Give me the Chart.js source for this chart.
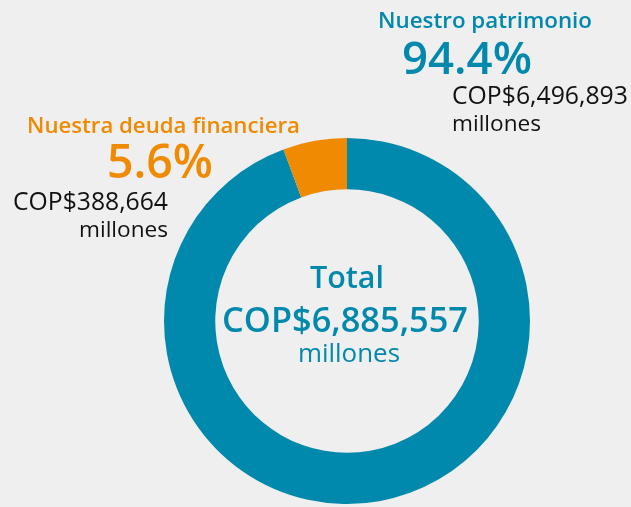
<!DOCTYPE html>
<html><head><meta charset="utf-8">
<script src="https://cdn.jsdelivr.net/npm/chart.js@4"></script>
<style>
html,body{margin:0;padding:0;background:#efefef;}
#wrap{position:relative;width:631px;height:507px;overflow:hidden;}
</style></head>
<body><div id="wrap"><canvas id="c" width="631" height="507"></canvas></div>
<script>
const categories = ["Nuestro patrimonio", "Nuestra deuda financiera"];
const values = [6496893, 388664];
const percentLabels = ["94.4%", "5.6%"];
const amountLabels = ["COP$6,496,893", "COP$388,664"];
const unitLabel = "millones";
const totalLabel = "Total";
const totalAmount = "COP$6,885,557";
const colors = ["#0088ad", "#f08a00"];

const FONT = "'Open Sans', 'Noto Sans', sans-serif";
function fitFont(ctx, text, weight, width, base) {
  ctx.font = weight + " " + base + "px " + FONT;
  const w = ctx.measureText(text).width;
  const size = base * width / w;
  ctx.font = weight + " " + size.toFixed(2) + "px " + FONT;
}
const textPlugin = {
  id: 'texts',
  afterDraw(chart) {
    const ctx = chart.ctx;
    ctx.save();
    ctx.textBaseline = 'alphabetic';
    const items = [
      // text, weight, color, align, x, baseline, width
      [categories[0], '600', colors[0], 'left', 378, 28, 214],
      [percentLabels[0], '600', colors[0], 'left', 402, 74, 130],
      [amountLabels[0], 'normal', '#111', 'left', 452, 104, 176],
      [unitLabel, 'normal', '#111', 'left', 452, 131, 89],
      [categories[1], '600', colors[1], 'left', 27, 133, 273],
      [percentLabels[1], '600', colors[1], 'left', 107, 178, 106],
      [amountLabels[1], 'normal', '#111', 'right', 168, 210, 155],
      [unitLabel, 'normal', '#111', 'right', 168, 237, 89],
      [totalLabel, '600', colors[0], 'center', 347, 288, 74],
      [totalAmount, '600', colors[0], 'center', 345, 332, 246],
      [unitLabel, 'normal', colors[0], 'center', 349, 362, 102]
    ];
    for (const it of items) {
      fitFont(ctx, it[0], it[1], it[6], 20);
      ctx.fillStyle = it[2];
      ctx.textAlign = it[3];
      ctx.fillText(it[0], it[4], it[5]);
    }
    ctx.restore();
  }
};

new Chart(document.getElementById('c'), {
  type: 'doughnut',
  data: {
    labels: categories,
    datasets: [{ data: values, backgroundColor: colors, borderWidth: 0, hoverOffset: 0 }]
  },
  options: {
    responsive: false,
    animation: false,
    cutout: '72%',
    layout: { padding: { left: 164, right: 101, top: 138, bottom: 3 } },
    plugins: { legend: { display: false }, tooltip: { enabled: false } }
  },
  plugins: [textPlugin]
});
</script></body></html>
